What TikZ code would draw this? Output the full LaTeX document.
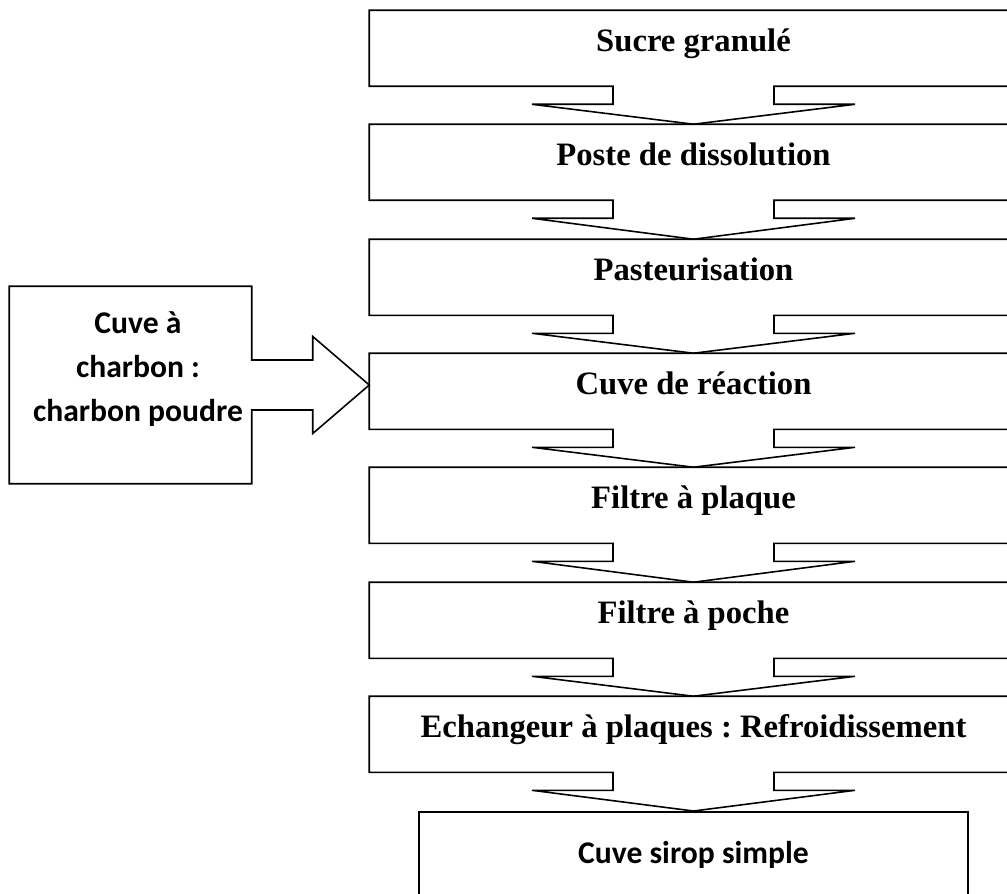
\documentclass[tikz,border=0pt]{standalone}
\usepackage{fontspec}
\setmainfont{Liberation Serif}
\newfontfamily\calibri{Carlito}
\usepackage{tikz}
\usetikzlibrary{calc}
\frenchspacing

\begin{document}
\begin{tikzpicture}[x=0.02cm, y=-0.02cm, line width=0.9pt, line join=miter,
    stepbox/.style={inner sep=0pt, minimum width=12.94cm, text height=0.80cm, text depth=0.69cm, font=\fontsize{18.6}{22}\selectfont\bfseries},
    lastbox/.style={draw, inner sep=0pt, minimum width=10.98cm, text height=1.04cm, text depth=1.6cm, font=\calibri\fontsize{18}{22}\selectfont\bfseries},
    sidebox/.style={inner sep=0pt, minimum width=4.82cm, minimum height=3.92cm},
    sidetext/.style={align=center, font=\calibri\fontsize{18}{25}\selectfont\bfseries}]
        \clip (0,0) rectangle (1007,893);

        % Process column
        \node[stepbox] (sucre) at (693.5, 48.25) {Sucre granulé};
        \node[stepbox] (poste) at (693.5, 162.25) {Poste de dissolution};
        \node[stepbox] (pasteur) at (693.5, 277.25) {Pasteurisation};
        \node[stepbox] (reaction) at (693.5, 391.25) {Cuve de réaction};
        \node[stepbox] (plaque) at (693.5, 505.25) {Filtre à plaque};
        \node[stepbox] (poche) at (693.5, 620.25) {Filtre à poche};
        \node[stepbox] (echangeur) at (693.5, 734.25) {Echangeur à plaques : Refroidissement};
        \node[lastbox, anchor=north] (sirop) at (693.5, 811) {Cuve sirop simple};

        % Boxes with their down arrows
        \draw (sucre.south west) -- (sucre.north west) -- (sucre.north east) -- (sucre.south east) -- ($(sucre.south)+(80.5,0)$) -- ++(0,18) -- ++(81,0) -- (poste.north) -- ($(sucre.south)+(-161.5,18)$) -- ++(81,0) -- ++(0,-18) -- cycle;
        \draw (poste.south west) -- (poste.north west) -- (poste.north east) -- (poste.south east) -- ($(poste.south)+(80.5,0)$) -- ++(0,18) -- ++(81,0) -- (pasteur.north) -- ($(poste.south)+(-161.5,18)$) -- ++(81,0) -- ++(0,-18) -- cycle;
        \draw (pasteur.south west) -- (pasteur.north west) -- (pasteur.north east) -- (pasteur.south east) -- ($(pasteur.south)+(80.5,0)$) -- ++(0,18) -- ++(81,0) -- (reaction.north) -- ($(pasteur.south)+(-161.5,18)$) -- ++(81,0) -- ++(0,-18) -- cycle;
        \draw (reaction.south west) -- (reaction.north west) -- (reaction.north east) -- (reaction.south east) -- ($(reaction.south)+(80.5,0)$) -- ++(0,18) -- ++(81,0) -- (plaque.north) -- ($(reaction.south)+(-161.5,18)$) -- ++(81,0) -- ++(0,-18) -- cycle;
        \draw (plaque.south west) -- (plaque.north west) -- (plaque.north east) -- (plaque.south east) -- ($(plaque.south)+(80.5,0)$) -- ++(0,18) -- ++(81,0) -- (poche.north) -- ($(plaque.south)+(-161.5,18)$) -- ++(81,0) -- ++(0,-18) -- cycle;
        \draw (poche.south west) -- (poche.north west) -- (poche.north east) -- (poche.south east) -- ($(poche.south)+(80.5,0)$) -- ++(0,18) -- ++(81,0) -- (echangeur.north) -- ($(poche.south)+(-161.5,18)$) -- ++(81,0) -- ++(0,-18) -- cycle;
        \draw (echangeur.south west) -- (echangeur.north west) -- (echangeur.north east) -- (echangeur.south east) -- ($(echangeur.south)+(80.5,0)$) -- ++(0,18) -- ++(81,0) -- (sirop.north) -- ($(echangeur.south)+(-161.5,18)$) -- ++(81,0) -- ++(0,-18) -- cycle;

        % Charcoal tank feeding the reaction tank
        \node[sidebox] (charbon) at (130.5, 385) {};
        \node[sidetext] (charbontext) at (138, 369) {Cuve à\\charbon :\\charbon poudre};
        \draw (charbon.north west) -- (charbon.north east) -- ($(charbon.east)+(0,-25)$) -- ++(61,0) -- ++(0,-23.5) -- (reaction.west |- charbon.east) -- ($(charbon.east)+(61,48.5)$) -- ++(0,-23.5) -- ++(-61,0) -- (charbon.south east) -- (charbon.south west) -- cycle;
    \end{tikzpicture}
\end{document}
